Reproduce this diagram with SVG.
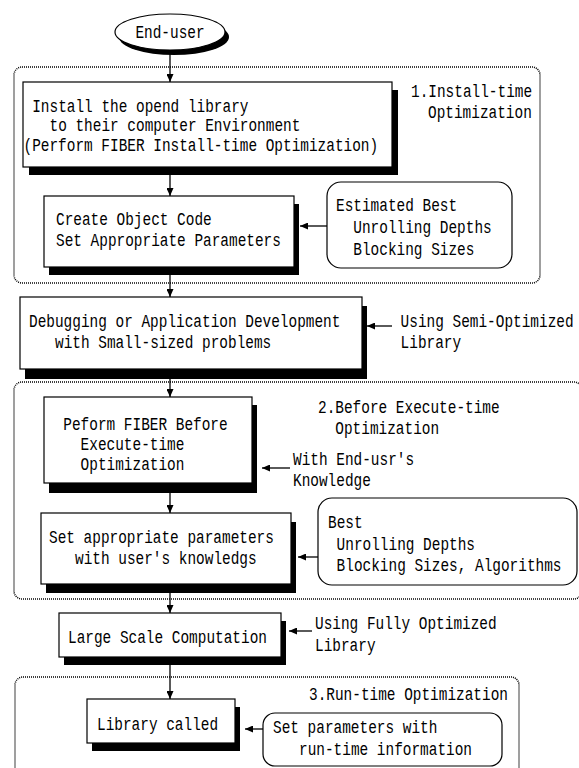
<svg xmlns="http://www.w3.org/2000/svg" width="579" height="768" viewBox="0 0 579 768">
<defs>
<marker id="ah" markerUnits="userSpaceOnUse" markerWidth="8" markerHeight="7" refX="8" refY="3.5" orient="auto">
<path d="M0,0 L8,3.5 L0,7 z" fill="#000"/>
</marker>
<style>
text{font-family:"Liberation Mono","DejaVu Sans Mono",monospace;font-size:18px;fill:#000}
.box{fill:#fff;stroke:#000;stroke-width:1.2}
.sh{fill:#000}
.rbox{fill:#fff;stroke:#000;stroke-width:1.2}
.grp{fill:none;stroke:#000;stroke-width:1.5;stroke-dasharray:1 1}
.con{stroke:#000;stroke-width:1.3;fill:none;marker-end:url(#ah)}
</style>
</defs>
<rect width="579" height="768" fill="#fff"/>

<g id="groups">
<rect id="grp1" class="grp" x="14" y="67" width="526" height="216" rx="8"/>
<rect id="grp2" class="grp" x="14" y="382" width="568" height="217" rx="8"/>
<rect id="grp3" class="grp" x="15" y="677" width="504" height="120" rx="8"/>
<text x="411" y="97" textLength="121.1" lengthAdjust="spacingAndGlyphs">1.Install-time</text>
<text x="428" y="118" textLength="103.8" lengthAdjust="spacingAndGlyphs">Optimization</text>
<text x="318" y="413" textLength="181.65" lengthAdjust="spacingAndGlyphs">2.Before Execute-time</text>
<text x="335.3" y="434" textLength="103.8" lengthAdjust="spacingAndGlyphs">Optimization</text>
<text x="309" y="700" textLength="198.95" lengthAdjust="spacingAndGlyphs">3.Run-time Optimization</text>
</g>

<g id="enduser">
<ellipse cx="174" cy="37" rx="55" ry="18" fill="#000"/>
<ellipse cx="170" cy="32" rx="55" ry="18" fill="#fff" stroke="#000" stroke-width="1.2"/>
<text x="135.4" y="38" textLength="69.2" lengthAdjust="spacingAndGlyphs">End-user</text>
</g>

<g id="install">
<rect class="sh" x="29" y="90" width="369" height="85"/>
<rect class="box" x="23" y="82" width="369" height="85"/>
<text x="32.2" y="112" textLength="216.25" lengthAdjust="spacingAndGlyphs">Install the opend library</text>
<text x="49.5" y="131" textLength="250.85" lengthAdjust="spacingAndGlyphs">to their computer Environment</text>
<text x="23.5" y="150.5" textLength="354.65" lengthAdjust="spacingAndGlyphs">(Perform FIBER Install-time Optimization)</text>
</g>

<g id="create">
<rect class="sh" x="49" y="204" width="250" height="71"/>
<rect class="box" x="44" y="196" width="250" height="71"/>
<text x="56" y="225" textLength="155.7" lengthAdjust="spacingAndGlyphs">Create Object Code</text>
<text x="56" y="246" textLength="224.9" lengthAdjust="spacingAndGlyphs">Set Appropriate Parameters</text>
</g>

<g id="estimated">
<rect class="rbox" x="327" y="182" width="185" height="86" rx="14"/>
<text x="336" y="211" textLength="121.1" lengthAdjust="spacingAndGlyphs">Estimated Best</text>
<text x="353.3" y="233" textLength="138.4" lengthAdjust="spacingAndGlyphs">Unrolling Depths</text>
<text x="353.3" y="254.5" textLength="121.1" lengthAdjust="spacingAndGlyphs">Blocking Sizes</text>
</g>

<g id="debug">
<rect class="sh" x="25" y="306" width="342" height="73"/>
<rect class="box" x="20" y="297" width="342" height="72"/>
<text x="29" y="327" textLength="311.4" lengthAdjust="spacingAndGlyphs">Debugging or Application Development</text>
<text x="55" y="348" textLength="216.25" lengthAdjust="spacingAndGlyphs">with Small-sized problems</text>
</g>

<g id="semi">
<text x="400.6" y="327" textLength="173" lengthAdjust="spacingAndGlyphs">Using Semi-Optimized</text>
<text x="400.6" y="348" textLength="60.55" lengthAdjust="spacingAndGlyphs">Library</text>
</g>

<g id="peform">
<rect class="sh" x="49" y="405" width="208" height="88"/>
<rect class="box" x="44" y="397" width="208" height="86"/>
<text x="63.3" y="429.5" textLength="164.35" lengthAdjust="spacingAndGlyphs">Peform FIBER Before</text>
<text x="80.6" y="449.5" textLength="103.8" lengthAdjust="spacingAndGlyphs">Execute-time</text>
<text x="80.6" y="469.5" textLength="103.8" lengthAdjust="spacingAndGlyphs">Optimization</text>
</g>

<g id="knowledge">
<text x="293" y="465" textLength="121.1" lengthAdjust="spacingAndGlyphs">With End-usr's</text>
<text x="293" y="486" textLength="77.85" lengthAdjust="spacingAndGlyphs">Knowledge</text>
</g>

<g id="setparams">
<rect class="sh" x="46" y="522" width="250" height="71"/>
<rect class="box" x="41" y="513" width="250" height="71"/>
<text x="49" y="542.5" textLength="224.9" lengthAdjust="spacingAndGlyphs">Set appropriate parameters</text>
<text x="75" y="563.5" textLength="181.65" lengthAdjust="spacingAndGlyphs">with user's knowledgs</text>
</g>

<g id="best">
<rect class="rbox" x="318" y="498" width="259" height="87" rx="14"/>
<text x="328" y="528" textLength="34.6" lengthAdjust="spacingAndGlyphs">Best</text>
<text x="336.6" y="549.5" textLength="138.4" lengthAdjust="spacingAndGlyphs">Unrolling Depths</text>
<text x="336.6" y="571" textLength="224.9" lengthAdjust="spacingAndGlyphs">Blocking Sizes, Algorithms</text>
</g>

<g id="large">
<rect class="sh" x="64" y="621" width="222" height="44"/>
<rect class="box" x="59" y="613" width="222" height="44"/>
<text x="68" y="643" textLength="198.95" lengthAdjust="spacingAndGlyphs">Large Scale Computation</text>
</g>

<g id="fully">
<text x="315" y="629" textLength="181.65" lengthAdjust="spacingAndGlyphs">Using Fully Optimized</text>
<text x="315" y="651" textLength="60.55" lengthAdjust="spacingAndGlyphs">Library</text>
</g>

<g id="libcalled">
<rect class="sh" x="92" y="707" width="148" height="44"/>
<rect class="box" x="87" y="699" width="148" height="44"/>
<text x="97" y="729.5" textLength="121.1" lengthAdjust="spacingAndGlyphs">Library called</text>
</g>

<g id="runtime">
<rect class="rbox" x="263" y="713" width="239" height="53" rx="12"/>
<text x="273" y="733" textLength="164.35" lengthAdjust="spacingAndGlyphs">Set parameters with</text>
<text x="299" y="755" textLength="173" lengthAdjust="spacingAndGlyphs">run-time information</text>
</g>

<g id="connectors">
<line class="con" x1="170" y1="51" x2="170" y2="82"/>
<line class="con" x1="170" y1="175" x2="170" y2="196"/>
<line class="con" x1="327" y1="226" x2="300" y2="226"/>
<line class="con" x1="170" y1="275" x2="170" y2="297"/>
<line class="con" x1="392" y1="326" x2="367" y2="326"/>
<line class="con" x1="170" y1="379" x2="170" y2="397"/>
<line class="con" x1="290" y1="468" x2="262" y2="468"/>
<line class="con" x1="170" y1="493" x2="170" y2="513"/>
<line class="con" x1="318" y1="557" x2="298" y2="557"/>
<line class="con" x1="170" y1="593" x2="170" y2="613"/>
<line class="con" x1="312" y1="631" x2="289" y2="631"/>
<line class="con" x1="170" y1="665" x2="170" y2="699"/>
<line class="con" x1="263" y1="729" x2="245" y2="729"/>
</g>
</svg>
